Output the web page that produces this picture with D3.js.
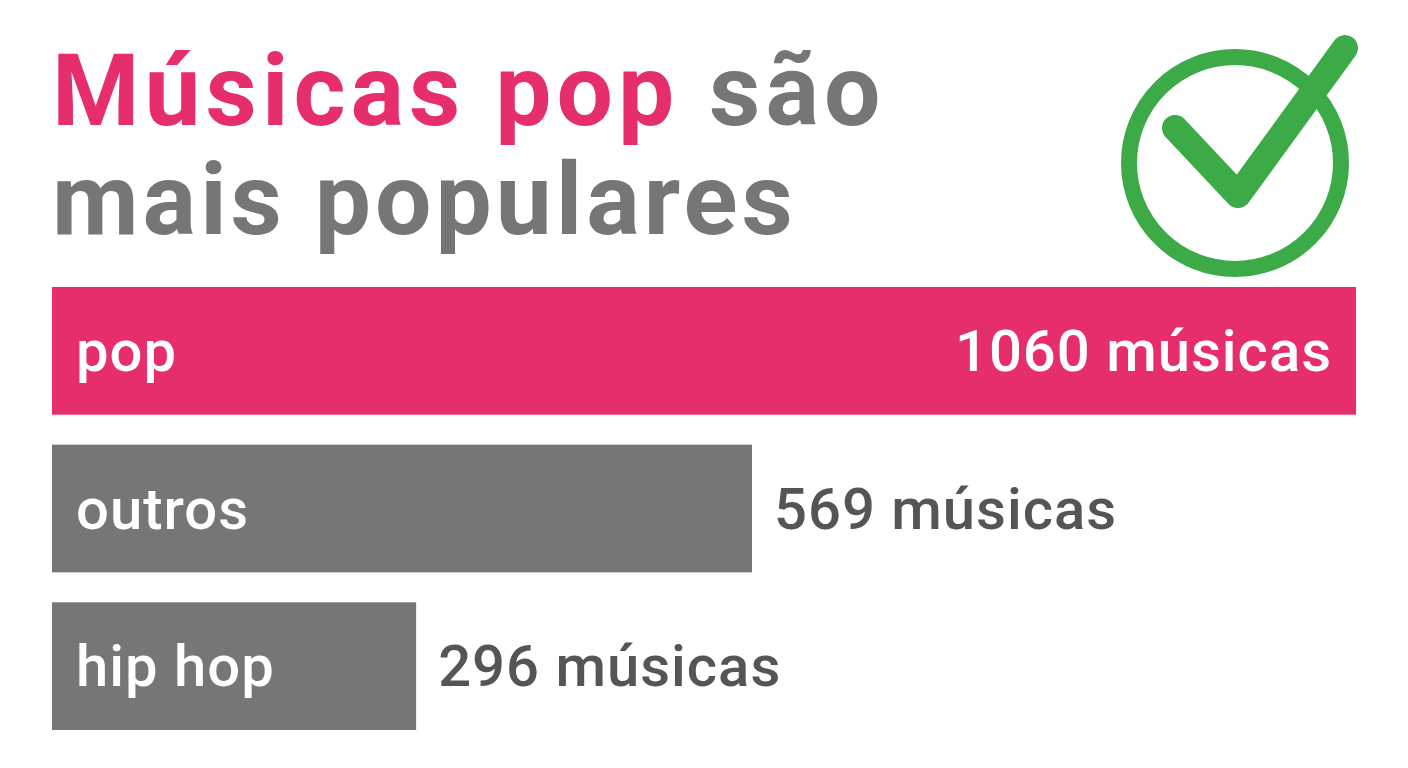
<!DOCTYPE html><html><head><meta charset="utf-8"><script src="https://cdn.jsdelivr.net/npm/d3@7"></script>
<style>body{margin:0;background:#fff}</style></head><body><svg id="c" width="1408" height="768"></svg><script>
const categories=["pop","outros","hip hop"];
const values=[1060,569,296];
const colors=["#e62e6d","#767676","#767676"];
const svg=d3.select("#c");
const F="Roboto, sans-serif";
const t1=svg.append("text").attr("x",52).attr("y",125).attr("font-family",F).attr("font-weight",700).attr("font-size",100).attr("letter-spacing",5);
t1.append("tspan").attr("fill","#e62e6d").text("Músicas pop ");
t1.append("tspan").attr("fill","#767676").text("são");
svg.append("text").attr("x",52).attr("y",234).attr("font-family",F).attr("font-weight",700).attr("font-size",100).attr("letter-spacing",4).attr("fill","#767676").text("mais populares");
svg.append("circle").attr("cx",1235).attr("cy",163).attr("r",106).attr("fill","none").attr("stroke","#3cab47").attr("stroke-width",16);
svg.append("path").attr("d","M1175,128 L1238,195 L1345,48").attr("fill","none").attr("stroke","#3cab47").attr("stroke-width",26).attr("stroke-linecap","round").attr("stroke-linejoin","round");
const x=d3.scaleLinear().domain([0,1060]).range([52,1356]);
const y=d3.scaleBand().domain(categories).range([287,730]).paddingInner(0.19);
categories.forEach((c,i)=>{
 const v=values[i];
 svg.append("rect").attr("x",x(0)).attr("y",y(c)).attr("width",x(v)-x(0)).attr("height",y.bandwidth()).attr("fill",colors[i]);
 const cy=y(c)+y.bandwidth()/2+20;
 svg.append("text").attr("x",76).attr("y",cy).attr("font-family",F).attr("font-weight",500).attr("font-size",58).attr("letter-spacing",1).attr("fill","#fff").text(c);
 const inside=i===0;
 svg.append("text").attr("x",inside?x(v)-24:x(v)+22).attr("y",cy).attr("text-anchor",inside?"end":"start")
  .attr("font-family",F).attr("font-weight",500).attr("font-size",58).attr("letter-spacing",1).attr("fill",inside?"#fff":"#555").text(v+" músicas");
});
</script></body></html>
